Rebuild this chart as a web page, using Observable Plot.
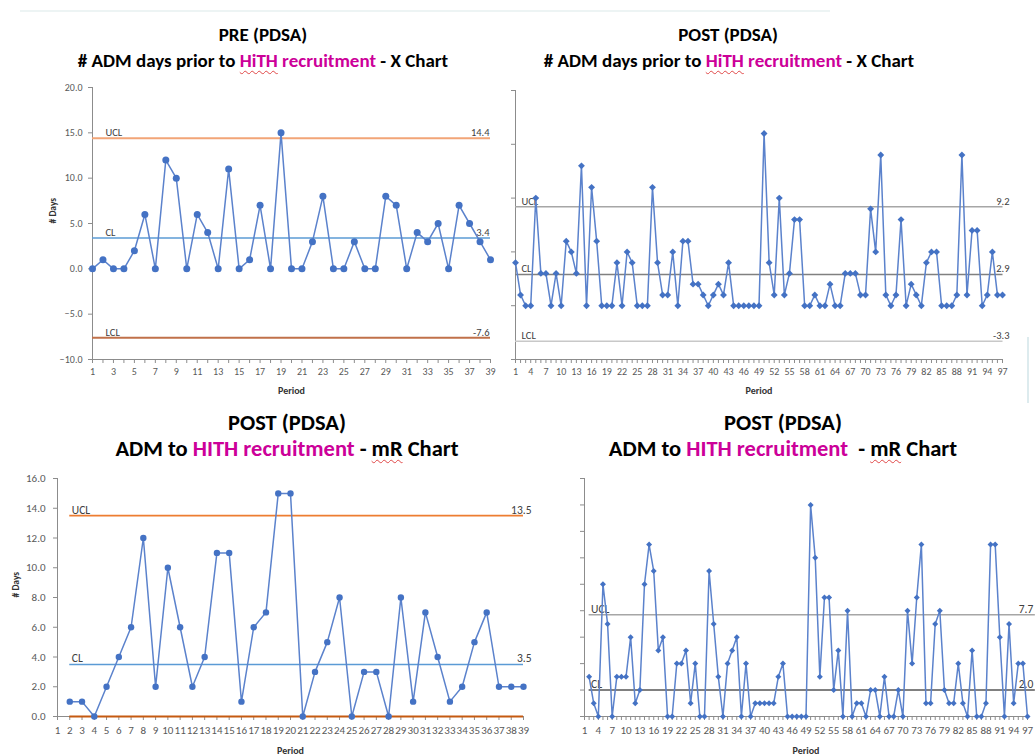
<!DOCTYPE html>
<html><head><meta charset="utf-8">
<script src="https://cdn.jsdelivr.net/npm/d3@7"></script>
<script src="https://cdn.jsdelivr.net/npm/@observablehq/plot@0.6"></script>
<style>
html,body{margin:0;padding:0;background:#fff;}
body{width:1035px;height:756px;overflow:hidden;position:relative;font-family:Carlito,Lato,sans-serif;}
.t{position:absolute;transform:translate(-50%,-50%);white-space:nowrap;font-weight:700;color:#000;line-height:1;}
.m{color:#CC0099;}
.w{text-decoration:underline wavy #E04848;text-decoration-thickness:1px;text-underline-offset:3px;text-decoration-skip-ink:none;}
.p{position:absolute;}
.p svg{max-width:none !important;}
.deco{position:absolute;}
</style></head><body>
<div class="deco" style="left:20px;top:10px;width:810px;height:2px;background:#EDF4F4"></div>
<div class="deco" style="left:1027px;top:337px;width:2px;height:66px;background:#DDEBEE"></div>

<div class="t" style="left:263px;top:34px;font-size:19px">PRE (PDSA)</div>
<div class="t" style="left:263px;top:60px;font-size:19px"># ADM days prior to <span class="m"><span class="w">HiTH</span> recruitment</span> - X Chart</div>
<div class="t" style="left:728px;top:34px;font-size:19px">POST (PDSA)</div>
<div class="t" style="left:729px;top:60px;font-size:19px"># ADM days prior to <span class="m"><span class="w">HiTH</span> recruitment</span> - X Chart</div>
<div class="t" style="left:287px;top:423px;font-size:22.5px">POST (PDSA)</div>
<div class="t" style="left:287px;top:449px;font-size:22.5px">ADM to <span class="m">HITH recruitment</span> - <span class="w">mR</span> Chart</div>
<div class="t" style="left:783px;top:423px;font-size:22.5px">POST (PDSA)</div>
<div class="t" style="left:783px;top:449px;font-size:22.5px">ADM to <span class="m">HITH recruitment</span>&nbsp; - <span class="w">mR</span> Chart</div>

<div id="p1" class="p" style="left:0px;top:80px;width:510px"></div>
<div id="p2" class="p" style="left:505px;top:80px;width:530px"></div>
<div id="p3" class="p" style="left:0px;top:470px;width:540px"></div>
<div id="p4" class="p" style="left:570px;top:470px;width:480px"></div>

<script>
// ---------- data ----------
const limitNames = ["UCL", "CL", "LCL"];

// PRE X chart, periods 1..39
const preXValues = [0,1,0,0,2,6,0,12,10,0, 6,4,0,11,0,1,7,0,15,0, 0,3,8,0,0,3,0,0,8,7, 0,4,3,5,0,7,5,3,1];
const preXLimits = [14.4, 3.4, -7.6];
const preXTickLabels = [1,3,5,7,9,11,13,15,17,19,21,23,25,27,29,31,33,35,37,39];
const preXYTicks = [-10,-5,0,5,10,15,20];

// POST X chart, periods 1..97
const postXValues = [4,1,0,0,10,3,3,0,3,0, 6,5,3,13,0,11,6,0,0,0, 4,0,5,4,0,0,0,11,4,1,
  1,5,0,6,6,2,2,1,0,1, 2,1,4,0,0,0,0,0,0,16, 4,1,10,1,3,8,8,0,0,1,
  0,0,2,0,0,3,3,3,1,1, 9,5,14,1,0,1,8,0,2,1, 0,4,5,5,0,0,0,1,14,1, 7,7,0,1,5,1,1];
const postXLimits = [9.2, 2.9, -3.3];
const postTickLabels = [1,4,7,10,13,16,19,22,25,28,31,34,37,40,43,46,49,52,55,58,61,64,67,70,73,76,79,82,85,88,91,94,97];
const postXYTicks = [-5,0,5,10,15,20];

// mR chart (first one), periods 2..39
const preMRValues = [1,1,0,2,4,6,12,2,10,6, 2,4,11,11,1,6,7,15,15,0, 3,5,8,0,3,3,0,8,1,7, 4,1,2,5,7,2,2,2];
const preMRLimits = [13.5, 3.5, 0];
const preMRTickLabels = [1,2,3,4,5,6,7,8,9,10,11,12,13,14,15,16,17,18,19,20,21,22,23,24,25,26,27,28,29,30,31,32,33,34,35,36,37,38,39];
const preMRYTicks = [0,2,4,6,8,10,12,14,16];

// mR chart (second one), periods 2..97
const postMRValues = [3,1,0,10,7,0,3,3,3,6, 1,2,10,13,11,5,6,0,0,4, 4,5,1,4,0,0,11,7,3,0,
  4,5,6,0,4,0,1,1,1,1, 1,3,4,0,0,0,0,0,16,12, 3,9,9,2,5,0,8,0,1,1,
  0,2,2,0,3,0,0,2,0,8, 4,9,13,1,1,7,8,2,1,1, 4,1,0,5,0,0,1,13,13,6, 0,7,1,4,4,0];
const postMRLimits = [7.7, 2.0];
const postMRYTicks = [0,2,4,6,8,10,12,14,16,18];

// ---------- drawing ----------
const FONT = "Carlito, Lato, sans-serif";
const AXIS = "#8C8C8C";
const TICKTXT = "#595959";
const BLUE = "#4472C4";

function chart(o) {
  const pts = o.values.map((v, i) => ({period: o.start + i, value: v}));
  const lims = o.limits.map((v, i) => ({name: limitNames[i], value: v, color: o.limitColors[i], sw: o.limitWidths[i], labelled: o.labelled[i]}));
  const minor = d3.range(o.xDomain[0], o.xDomain[1] + 1);
  const marks = [
    Plot.ruleX([o.xDomain[0]], {stroke: AXIS, strokeWidth: 1}),
    Plot.ruleY([o.yDomain[0]], {stroke: AXIS, strokeWidth: 1}),
    Plot.axisX({ticks: minor, tickSize: 4, fill: "none", stroke: AXIS, label: null}),
    Plot.axisX({ticks: o.xTicks, tickSize: 0, tickPadding: o.xPad, stroke: "none", fill: TICKTXT, fontSize: o.xfs, label: null, tickFormat: d => String(d)}),
    Plot.axisY({ticks: o.yTicks, tickSize: 4, tickPadding: o.yPad, stroke: AXIS, fill: o.yFormat ? TICKTXT : "none", fontSize: o.yfs, label: null, tickFormat: o.yFormat || (() => "")})
  ];
  lims.forEach(l => {
    marks.push(Plot.ruleY([l], {y: "value", x1: o.lineX1, x2: o.lineX2, stroke: l.color, strokeWidth: l.sw}));
    if (!l.labelled) return;
    marks.push(Plot.text([l], {y: "value", x: o.lineX1, text: "name", textAnchor: "start", lineAnchor: "bottom", dx: o.nameDx, dy: -2, fill: "#404040", fontSize: o.lfs}));
    marks.push(Plot.text([l], {y: "value", x: o.valX, text: d => d.value.toFixed(1), textAnchor: o.valAnchor, lineAnchor: "bottom", dx: o.valDx, dy: -2, fill: "#404040", fontSize: o.lfs}));
  });
  marks.push(Plot.line(pts, {x: "period", y: "value", stroke: "#5B82CC", strokeWidth: 1.5}));
  marks.push(Plot.dot(pts, {x: "period", y: "value", r: o.r, symbol: o.symbol, fill: BLUE, stroke: "none"}));
  marks.push(Plot.text(["Period"], {frameAnchor: "bottom", text: d => d, dy: o.periodDy, dx: o.periodDx || 0, fontWeight: "bold", fontSize: 10, fill: "#333"}));
  if (o.yTitle) marks.push(Plot.text(["# Days"], {frameAnchor: "left", text: d => d, rotate: -90, dx: o.yTitleDx, fontWeight: "bold", fontSize: 9.5, fill: "#333"}));
  const svg = Plot.plot({
    width: o.width, height: o.height,
    marginLeft: o.ml, marginRight: o.mr, marginTop: o.mt, marginBottom: o.mb,
    x: {type: "linear", domain: o.xDomain, label: null, axis: null},
    y: {type: "linear", domain: o.yDomain, label: null, axis: null},
    style: {fontFamily: FONT, background: "transparent", overflow: "visible", maxWidth: "none"},
    marks
  });
  document.getElementById(o.id).appendChild(svg);
}

const f1 = d3.format(".1f");

chart({id: "p1", values: preXValues, start: 1, limits: preXLimits, labelled: [true, true, true],
  limitColors: ["#F2A577", "#5B9BD5", "#C0714A"], limitWidths: [2, 1.5, 2],
  xDomain: [1, 39], yDomain: [-10, 20], xTicks: preXTickLabels, yTicks: preXYTicks, yFormat: f1,
  width: 510, height: 320, ml: 92, mr: 20, mt: 7, mb: 41, xPad: 8, yPad: 6, xfs: 10, yfs: 10, lfs: 10.5,
  lineX1: 1, lineX2: 39, nameDx: 13, valX: 39, valAnchor: "end", valDx: -1,
  r: 3.5, symbol: "circle", periodDy: 34, yTitle: true, yTitleDx: -40});

chart({id: "p2", values: postXValues, start: 1, limits: postXLimits, labelled: [true, true, true],
  limitColors: ["#A6A6A6", "#808080", "#C8C8C8"], limitWidths: [1.5, 1.5, 1.5],
  xDomain: [1, 97], yDomain: [-5, 20], xTicks: postTickLabels, yTicks: postXYTicks, yFormat: null,
  width: 530, height: 320, ml: 10, mr: 33, mt: 10, mb: 41, xPad: 8, yPad: 6, xfs: 10, yfs: 10, lfs: 10.5,
  lineX1: 1, lineX2: 97.1, nameDx: 6, valX: 97, valAnchor: "end", valDx: 7,
  r: 3.1, symbol: "diamond2", periodDy: 34, periodDx: 0, yTitle: false});

chart({id: "p3", values: preMRValues, start: 2, limits: preMRLimits, labelled: [true, true, false],
  limitColors: ["#ED7D31", "#5B9BD5", "#C55A11"], limitWidths: [1.8, 1.5, 2.2],
  xDomain: [1, 39], yDomain: [0, 16], xTicks: preMRTickLabels, yTicks: preMRYTicks, yFormat: f1,
  width: 540, height: 286, ml: 57, mr: 17, mt: 8, mb: 40, xPad: 10, yPad: 8, xfs: 11, yfs: 11, lfs: 11.5,
  lineX1: 2, lineX2: 39, nameDx: 2, valX: 39, valAnchor: "end", valDx: 8,
  r: 3.2, symbol: "circle", periodDy: 37, yTitle: true, yTitleDx: -42});

chart({id: "p4", values: postMRValues, start: 2, limits: postMRLimits, labelled: [true, true],
  limitColors: ["#A6A6A6", "#808080"], limitWidths: [1.5, 2],
  xDomain: [1, 97], yDomain: [0, 18], xTicks: postTickLabels, yTicks: postMRYTicks, yFormat: null,
  width: 480, height: 286, ml: 14, mr: 23, mt: 8, mb: 40, xPad: 10, yPad: 6, xfs: 11, yfs: 11, lfs: 11.5,
  lineX1: 2, lineX2: 98.7, nameDx: 2, valX: 98.7, valAnchor: "end", valDx: -2,
  r: 2.7, symbol: "diamond2", periodDy: 37, periodDx: 0, yTitle: false});
</script>
</body></html>
